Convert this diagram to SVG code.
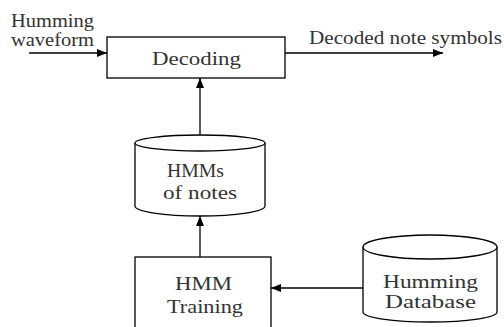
<svg xmlns="http://www.w3.org/2000/svg" width="504" height="327" viewBox="0 0 504 327">
<defs>
<marker id="arr" viewBox="0 0 10 8" refX="10" refY="4" markerWidth="10" markerHeight="8" markerUnits="userSpaceOnUse" orient="auto">
<path d="M0,0 L10,4 L0,8 Z" fill="#000"/>
</marker>
<style>
.t{font-family:"Liberation Serif","Times New Roman",serif;font-size:18px;fill:#333;}
.s{fill:#fff;stroke:#000;stroke-width:1.3;}
.c{fill:none;stroke:#000;stroke-width:1.3;marker-end:url(#arr);}
</style>
</defs>
<rect width="504" height="327" fill="#fff"/>
<g id="connectors">
<line class="c" x1="29" y1="53" x2="107" y2="53"/>
<line class="c" x1="285" y1="53" x2="443" y2="53"/>
<line class="c" x1="200" y1="135" x2="200" y2="78"/>
<line class="c" x1="200" y1="257" x2="200" y2="216"/>
<line class="c" x1="363" y1="288" x2="271" y2="288"/>
</g>
<g id="input-label">
<text class="t" x="11" y="27" textLength="83" lengthAdjust="spacingAndGlyphs">Humming</text>
<text class="t" x="11" y="46" textLength="83" lengthAdjust="spacingAndGlyphs">waveform</text>
</g>
<g id="output-label">
<text class="t" x="309" y="44" textLength="193" lengthAdjust="spacingAndGlyphs">Decoded note symbols</text>
</g>
<g id="decoding">
<rect class="s" x="107" y="37" width="178" height="41"/>
<text class="t" x="152" y="65" textLength="89" lengthAdjust="spacingAndGlyphs">Decoding</text>
</g>
<g id="hmms">
<path class="s" d="M135,143 L135,206 A65,10 0 0 0 265,206 L265,143"/>
<ellipse class="s" cx="200" cy="143" rx="65" ry="8"/>
<text class="t" x="167" y="177" textLength="57" lengthAdjust="spacingAndGlyphs">HMMs</text>
<text class="t" x="163" y="199" textLength="74" lengthAdjust="spacingAndGlyphs">of notes</text>
</g>
<g id="training">
<rect class="s" x="135" y="257" width="136" height="80"/>
<text class="t" x="175" y="290" textLength="57" lengthAdjust="spacingAndGlyphs">HMM</text>
<text class="t" x="167" y="313" textLength="76" lengthAdjust="spacingAndGlyphs">Training</text>
</g>
<g id="database">
<path class="s" d="M363,247 L363,312 A67,10 0 0 0 497,312 L497,247"/>
<ellipse class="s" cx="430" cy="247" rx="67" ry="12"/>
<text class="t" x="383" y="288" textLength="95" lengthAdjust="spacingAndGlyphs">Humming</text>
<text class="t" x="385" y="308" textLength="91" lengthAdjust="spacingAndGlyphs">Database</text>
</g>
</svg>
